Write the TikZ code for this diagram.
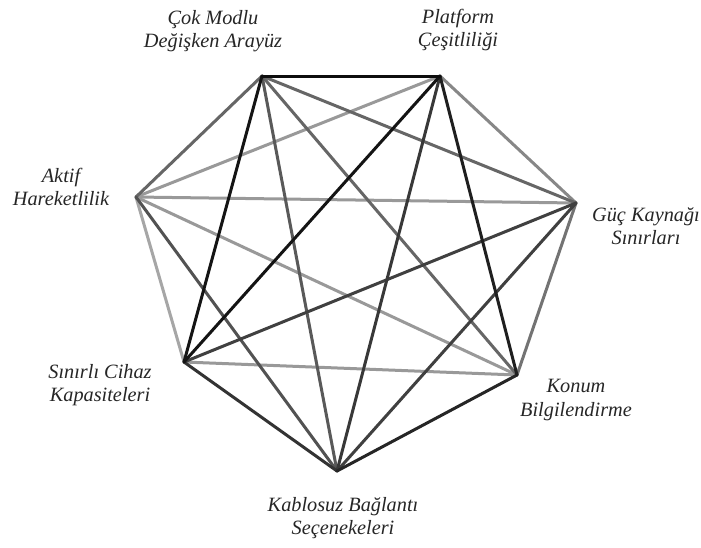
\documentclass[tikz,border=0pt]{standalone}
\usepackage{fontspec}
\setmainfont{Liberation Serif}
\begin{document}
\begin{tikzpicture}[x=1pt,y=-1pt,
  edge/.style={line width=3pt,line cap=round},
  lbl/.style={font=\fontsize{20.3}{23.5}\selectfont\itshape,text=black!85,align=center,inner sep=0pt}]
\path[use as bounding box,fill=white] (0,0) rectangle (701,547);
\coordinate (A) at (262,76);
\coordinate (B) at (440,76);
\coordinate (C) at (576,203);
\coordinate (D) at (517,375);
\coordinate (E) at (337,471);
\coordinate (F) at (184,362);
\coordinate (G) at (136,197);
% light edges first
\draw[edge,color=black!35] (F) -- (G);
\draw[edge,color=black!40] (B) -- (G);
\draw[edge,color=black!40] (C) -- (G);
\draw[edge,color=black!40] (D) -- (G);
\draw[edge,color=black!40] (D) -- (F);
\draw[edge,color=black!47] (B) -- (C);
\draw[edge,color=black!55] (C) -- (D);
\draw[edge,color=black!60] (A) -- (C);
\draw[edge,color=black!60] (A) -- (D);
\draw[edge,color=black!60] (A) -- (G);
\draw[edge,color=black!65] (A) -- (E);
\draw[edge,color=black!68] (E) -- (G);
\draw[edge,color=black!75] (C) -- (E);
\draw[edge,color=black!75] (C) -- (F);
\draw[edge,color=black!78] (B) -- (E);
\draw[edge,color=black!80] (E) -- (F);
\draw[edge,color=black!85] (D) -- (E);
\draw[edge,color=black!88] (B) -- (D);
\draw[edge,color=black!92] (A) -- (F);
\draw[edge,color=black!92] (B) -- (F);
\draw[edge,color=black!95] (A) -- (B);
% labels
\node[lbl] (lA) at (213,31) {Çok Modlu\\Değişken Arayüz};
\node[lbl] (lB) at (458,30) {Platform\\Çeşitliliği};
\node[lbl] (lC) at (646,226) {Güç Kaynağı\\Sınırları};
\node[lbl] (lG) at (61,187) {Aktif\\Hareketlilik};
\node[lbl] (lF) at (100,385) {Sınırlı Cihaz\\Kapasiteleri};
\node[lbl] (lD) at (576,400) {Konum\\Bilgilendirme};
\node[lbl] (lE) at (343,518) {Kablosuz Bağlantı\\Seçenekeleri};
\end{tikzpicture}
\end{document}
